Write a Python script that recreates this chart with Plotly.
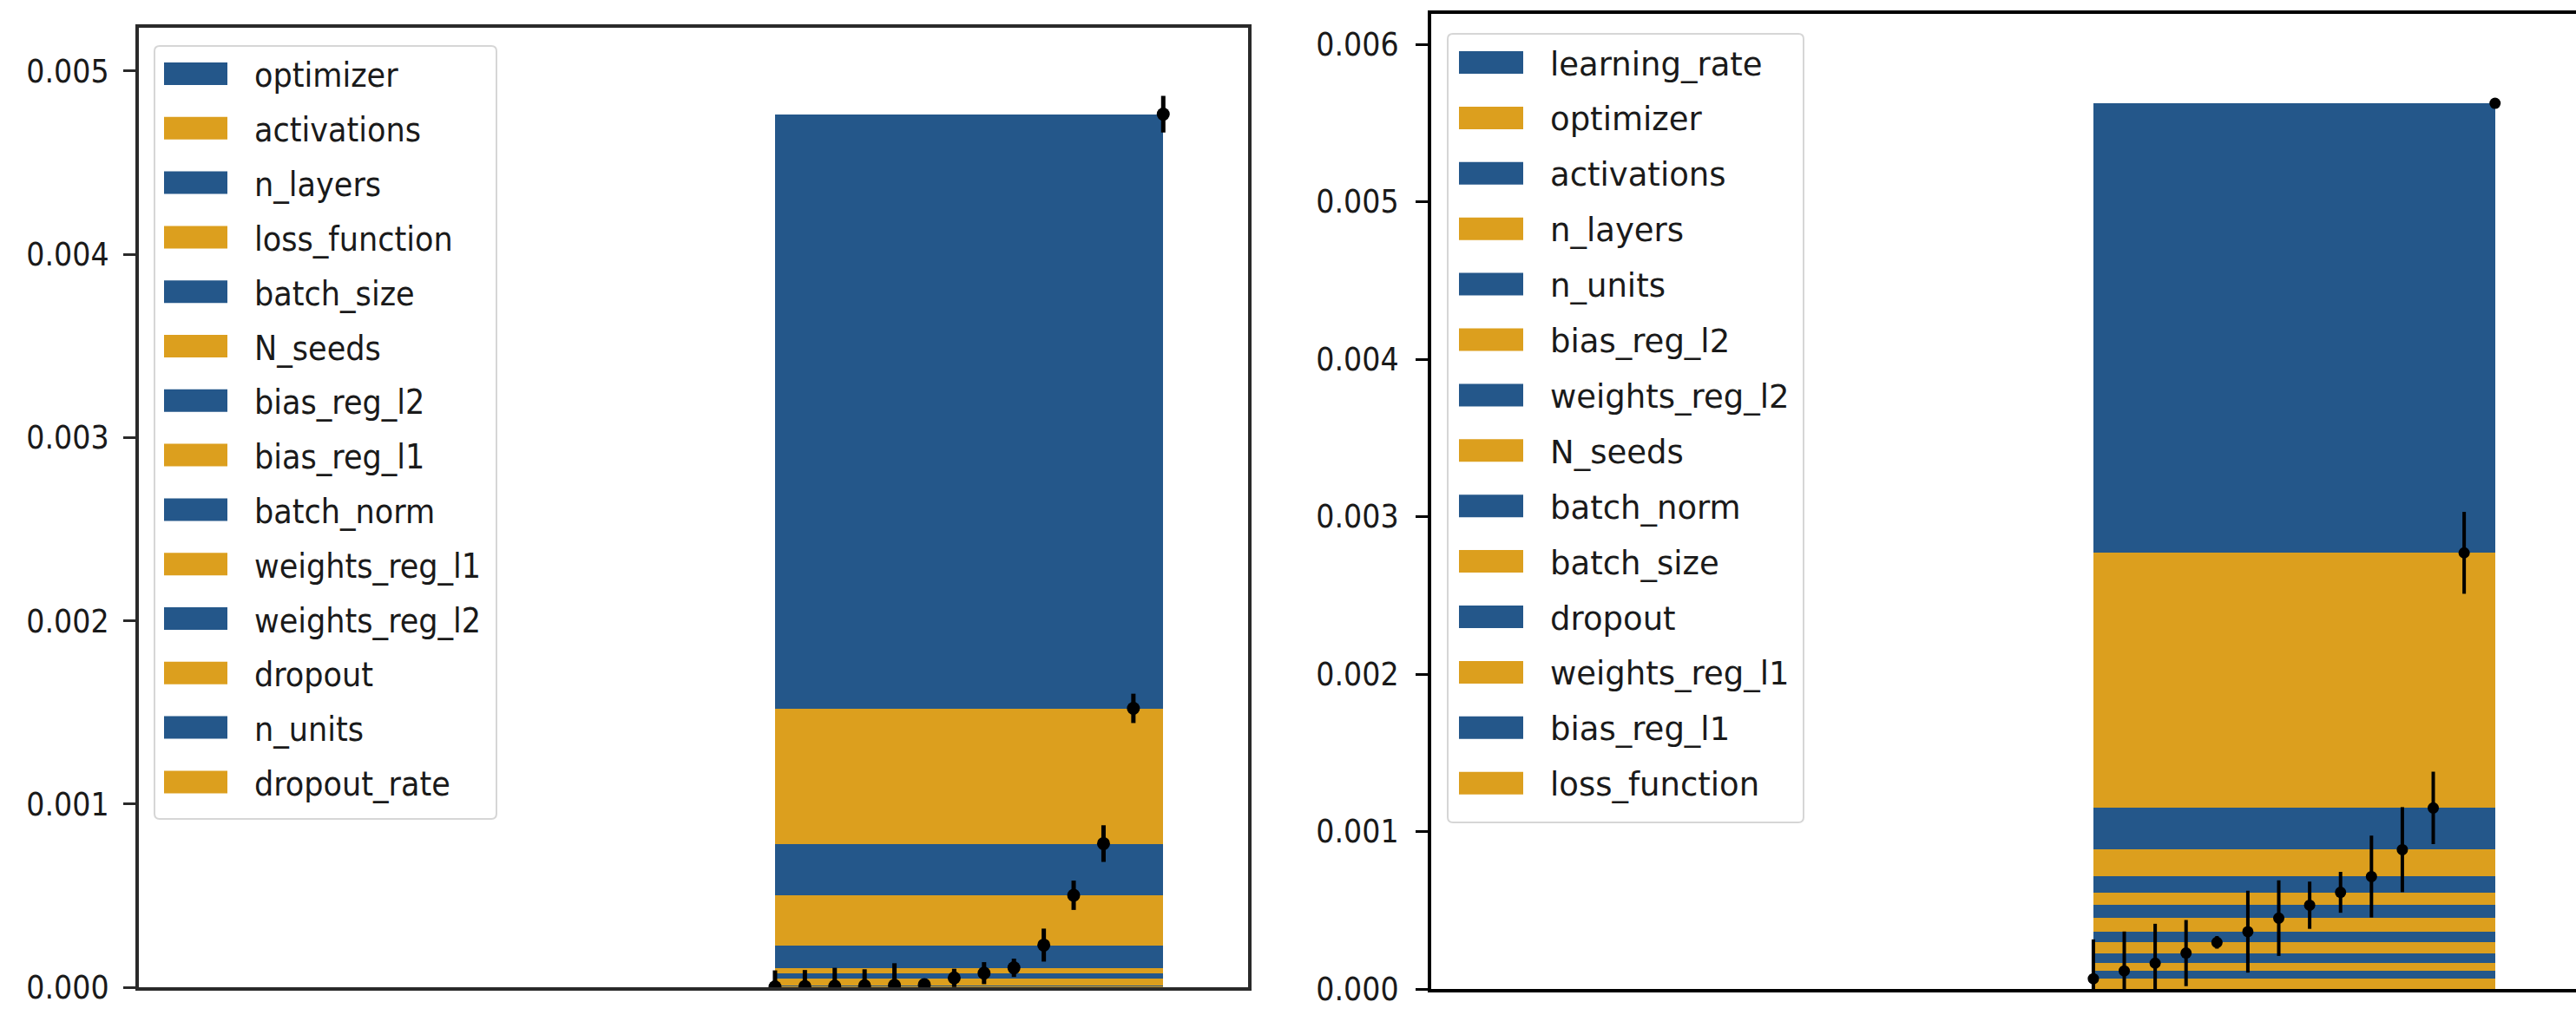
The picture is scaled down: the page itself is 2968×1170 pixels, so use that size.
import numpy as np
import plotly.graph_objects as go

W, H = 2968, 1170

BLUE = "#24578a"
ORANGE = "#dc9f1e"
COND = "DejaVu Sans Condensed, DejaVu Sans, sans-serif"
SANS = "DejaVu Sans, sans-serif"

# ---- data: hyperparameters listed from the top band down, with cumulative importance ----
left_params = ["optimizer", "activations", "n_layers", "loss_function", "batch_size",
               "N_seeds", "bias_reg_l2", "bias_reg_l1", "batch_norm", "weights_reg_l1",
               "weights_reg_l2", "dropout", "n_units", "dropout_rate"]
left_cumulative = [0.004765, 0.001522, 0.000784, 0.000502, 0.000230, 0.000106, 0.000077,
                   0.000051, 0.000014, 0.000011, 0.000008, 0.000006, 0.000004, 0.000002]
left_error = [0.00010, 0.00008, 0.00010, 0.00008, 0.00009, 0.00005, 0.00006,
              0.00005, 0.00002, 0.00012, 0.00009, 0.00010, 0.00009, 0.00009]

right_params = ["learning_rate", "optimizer", "activations", "n_layers", "n_units",
                "bias_reg_l2", "weights_reg_l2", "N_seeds", "batch_norm", "batch_size",
                "dropout", "weights_reg_l1", "bias_reg_l1", "loss_function"]
right_cumulative = [0.005625, 0.002770, 0.001150, 0.000885, 0.000714, 0.000614, 0.000532,
                    0.000450, 0.000364, 0.000296, 0.000228, 0.000164, 0.000115, 0.000065]
right_error = [0.00001, 0.00026, 0.00023, 0.00027, 0.00026, 0.00013, 0.00015,
               0.00024, 0.00026, 0.00004, 0.00021, 0.00025, 0.00025, 0.00025]

left_ticks = [0.0, 0.001, 0.002, 0.003, 0.004, 0.005]
right_ticks = [0.0, 0.001, 0.002, 0.003, 0.004, 0.005, 0.006]


def px_x(p):
    return p / W


def px_y(p):
    return 1 - p / H


fig = go.Figure()


def add_panel(params, cumulative, error, xa, ya, msize, ethick):
    n = len(params)
    cum = np.array(cumulative)
    base = np.append(cum[1:], 0.0)
    xs = (n - 1) - np.arange(n)          # smallest cumulative value on the left
    centre = xs.mean()
    span = xs.max() - xs.min()
    for i, name in enumerate(params):
        fig.add_trace(go.Bar(
            x=[centre], y=[cum[i] - base[i]], base=[base[i]], width=[span],
            marker=dict(color=BLUE if i % 2 == 0 else ORANGE, line=dict(width=0)),
            name=name, showlegend=False, xaxis=xa, yaxis=ya, hoverinfo="name+y",
        ))
    fig.add_trace(go.Scatter(
        x=xs, y=cum, mode="markers",
        marker=dict(color="black", size=msize),
        error_y=dict(type="data", array=error, visible=True, thickness=ethick, width=0,
                     color="black"),
        showlegend=False, xaxis=xa, yaxis=ya, cliponaxis=True,
    ))


add_panel(left_params, left_cumulative, left_error, "x", "y", 15, 5)
add_panel(right_params, right_cumulative, right_error, "x2", "y2", 13, 4)

shapes = []
annotations = []


def rounded_box(x0, y0, x1, y1, r):
    return (f"M {px_x(x0 + r)} {px_y(y0)} L {px_x(x1 - r)} {px_y(y0)} "
            f"Q {px_x(x1)} {px_y(y0)} {px_x(x1)} {px_y(y0 + r)} "
            f"L {px_x(x1)} {px_y(y1 - r)} Q {px_x(x1)} {px_y(y1)} {px_x(x1 - r)} {px_y(y1)} "
            f"L {px_x(x0 + r)} {px_y(y1)} Q {px_x(x0)} {px_y(y1)} {px_x(x0)} {px_y(y1 - r)} "
            f"L {px_x(x0)} {px_y(y0 + r)} Q {px_x(x0)} {px_y(y0)} {px_x(x0 + r)} {px_y(y0)} Z")


def add_legend(params, box, first_y, pitch, sw_x0, sw_x1, text_x, font):
    bx0, by0, bx1, by1 = box
    shapes.append(dict(type="path", xref="paper", yref="paper",
                       path=rounded_box(bx0, by0, bx1, by1, 6),
                       line=dict(color="#d6d6d6", width=2), fillcolor="rgba(255,255,255,0.85)",
                       layer="above"))
    for i, name in enumerate(params):
        cy = first_y + i * pitch
        shapes.append(dict(type="rect", xref="paper", yref="paper",
                           x0=px_x(sw_x0), x1=px_x(sw_x1), y0=px_y(cy - 13), y1=px_y(cy + 13),
                           fillcolor=BLUE if i % 2 == 0 else ORANGE, line=dict(width=0),
                           layer="above"))
        annotations.append(dict(xref="paper", yref="paper", x=px_x(text_x), y=px_y(cy + 2),
                                text=name, showarrow=False, xanchor="left", yanchor="middle",
                                font=font))


add_legend(left_params, (178, 53, 572, 944), 85, 62.8, 189, 262, 291,
           dict(family=COND, size=39, color="#1a1a1a"))
add_legend(right_params, (1668, 39, 2078, 948), 72, 63.9, 1681, 1755, 1784,
           dict(family=SANS, size=37, color="#1a1a1a"))

axis_common = dict(showgrid=False, zeroline=False, automargin=False)
tick_font = dict(family=COND, size=37, color="#1a1a1a")

fig.update_layout(
    width=W, height=H,
    margin=dict(l=0, r=0, t=0, b=0, autoexpand=False),
    paper_bgcolor="white", plot_bgcolor="white",
    barmode="overlay", bargap=0,
    showlegend=False,
    shapes=shapes, annotations=annotations,
    xaxis=dict(domain=[px_x(160), px_x(1438)], range=[-21.3, 15.84], anchor="y",
               showline=True, linecolor="#2a2a2a", linewidth=4, mirror=True,
               showticklabels=False, ticks="", **axis_common),
    yaxis=dict(domain=[px_y(1138), px_y(31.7)], range=[0, 0.005238], anchor="x",
               showline=True, linecolor="#2a2a2a", linewidth=4, mirror=True,
               tickvals=left_ticks, tickformat=".3f", ticks="outside", ticklen=14,
               tickwidth=3, tickcolor="#2a2a2a", tickfont=tick_font,
               ticklabelstandoff=9, ticklabeloverflow="allow", **axis_common),
    xaxis2=dict(domain=[px_x(1649), 1.0], range=[-21.43, 15.62], anchor="y2",
                showline=True, linecolor="black", linewidth=4, mirror=True,
                showticklabels=False, ticks="", **axis_common),
    yaxis2=dict(domain=[px_y(1140), px_y(16)], range=[0, 0.006193], anchor="x2",
                showline=True, linecolor="black", linewidth=4, mirror=False,
                tickvals=right_ticks, tickformat=".3f", ticks="outside", ticklen=14,
                tickwidth=3, tickcolor="black", tickfont=tick_font,
                ticklabelstandoff=12, ticklabeloverflow="allow", **axis_common),
)

fig.write_html("out.html")
